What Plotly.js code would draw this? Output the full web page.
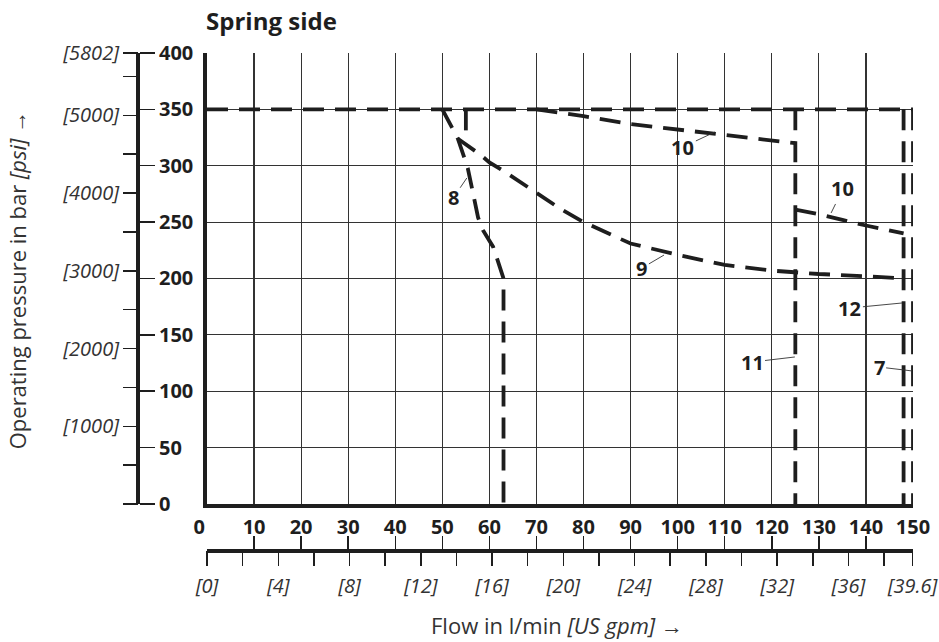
<!DOCTYPE html>
<html>
<head>
<meta charset="utf-8">
<script src="https://cdn.plot.ly/plotly-3.0.1.min.js"></script>
<style>html,body{margin:0;padding:0;background:#fff;}#chart{width:939px;height:642px;}</style>
</head>
<body>
<div id="chart"></div>
<script>
// ---- data (flow in l/min, pressure in bar) ----
const topLineX = [0, 150];
const topLineY = [350, 350];

const curve7X = [150, 150];
const curve7Y = [350, 0];

const curve12X = [148, 148];
const curve12Y = [350, 0];

const curve11X = [125, 125];
const curve11Y = [350, 0];

const curve10aX = [70, 80, 90, 100, 110, 120, 125];
const curve10aY = [350, 344, 337, 332, 327, 322, 320];

const curve10bX = [125, 130, 135, 140, 148];
const curve10bY = [261, 257, 252, 247, 240];

const curve8X = [50, 53.3, 55.4, 56.5, 57.6, 58.6, 60.8, 61.6, 63, 63];
const curve8Y = [350, 324, 298, 275, 254, 243, 228, 218, 200, 0];

const curve9X = [53.3, 58, 60, 63.5, 70, 75, 80, 90, 100, 110, 120, 130, 140, 148];
const curve9Y = [324, 310, 303, 294, 276, 262, 250, 231, 221, 212, 207, 204, 202, 200];

const stub9X = [55, 55];
const stub9Y = [350, 330];

// curve labels: text, tip (on curve), label centre
const labelText = ['10', '10', '9', '8', '12', '11', '7'];
const labelTipX = [107.9, 132.6, 97.1, 55.2, 147.7, 124.9, 149.8];
const labelTipY = [329.9, 258.1, 220.8, 289.1, 178.3, 130.4, 118];
const labelX = [101.1, 135.1, 92.4, 52.3, 136.6, 115.8, 142.8];
const labelY = [316.6, 279.4, 209.3, 271.4, 173.8, 125.9, 121.5];

// tick labels
const flowTicks = [0, 10, 20, 30, 40, 50, 60, 70, 80, 90, 100, 110, 120, 130, 140, 150];
const flowTickText = ['0\u00a0\u00a0\u00a0', '10', '20', '30', '40', '50', '60', '70', '80', '90', '100', '110', '120', '130', '140', '150'];
const gpmTicks = [0, 2, 4, 6, 8, 10, 12, 14, 16, 18, 20, 22, 24, 26, 28, 30, 32, 34, 36, 38, 39.6];
const gpmTickText = ['[0]', '', '[4]', '', '[8]', '', '[12]', '', '[16]', '', '[20]', '', '[24]', '', '[28]', '', '[32]', '', '[36]', '', '[39.6]'];
const barTicks = [0, 50, 100, 150, 200, 250, 300, 350, 400];
const psiTicks = [0, 500, 1000, 1500, 2000, 2500, 3000, 3500, 4000, 4500, 5000, 5500, 5801.5];
const psiTickText = ['', '', '[1000]', '', '[2000]', '', '[3000]', '', '[4000]', '', '[5000]', '', '[5802]'];

const BAR_TO_PSI = 14.5038;
const LPM_PER_GPM = 3.78541;

// ---- drawing ----
const FONT = 'Open Sans, Liberation Sans, Arial, sans-serif';
const INK = '#1e1e1e';
const dashed = {color: INK, width: 3.8, dash: '21px,11px'};

function curve(x, y) {
  return {x: x, y: y, type: 'scatter', mode: 'lines', line: dashed,
          hoverinfo: 'skip', showlegend: false, xaxis: 'x', yaxis: 'y'};
}

const traces = [
  curve(topLineX, topLineY),
  curve(curve7X, curve7Y),
  curve(curve12X, curve12Y),
  curve(curve11X, curve11Y),
  curve(curve10aX, curve10aY),
  curve(curve10bX, curve10bY),
  curve(curve8X, curve8Y),
  curve(curve9X, curve9Y),
  curve(stub9X, stub9Y),
  // empty anchor traces so the extra axes are drawn
  {x: [], y: [], type: 'scatter', xaxis: 'x2', yaxis: 'y', showlegend: false},
  {x: [], y: [], type: 'scatter', xaxis: 'x3', yaxis: 'y', showlegend: false},
  {x: [], y: [], type: 'scatter', xaxis: 'x', yaxis: 'y2', showlegend: false},
  {x: [], y: [], type: 'scatter', xaxis: 'x', yaxis: 'y3', showlegend: false}
];

const annotations = labelText.map((t, i) => ({
  text: t, x: labelTipX[i], y: labelTipY[i], ax: labelX[i], ay: labelY[i],
  xref: 'x', yref: 'y', axref: 'x', ayref: 'y',
  showarrow: true, arrowhead: 0, arrowwidth: 0.9, arrowcolor: '#333', standoff: 0,
  font: {family: FONT, size: 20, weight: 'bold', color: INK}
}));

annotations.push({
  text: 'Operating pressure in bar <i>[psi]</i> \u2192', xref: 'paper', yref: 'paper',
  x: 0.008, y: 0.566, textangle: -90, showarrow: false, xanchor: 'center', yanchor: 'middle',
  font: {family: FONT, size: 22, color: '#333'}
});
annotations.push({
  text: 'Flow in l/min <i>[US gpm]</i> \u2192', xref: 'paper', yref: 'paper',
  x: 0.5952, y: 0.0113, showarrow: false, xanchor: 'center', yanchor: 'middle',
  font: {family: FONT, size: 22, color: '#333'}
});

const layout = {
  width: 939, height: 642,
  margin: {l: 10, r: 10, t: 10, b: 10},
  paper_bgcolor: '#fff', plot_bgcolor: '#fff',
  showlegend: false,
  title: {text: '<b>Spring side</b>', x: 0.2194, xref: 'container', xanchor: 'left',
          y: 0.967, yref: 'container', yanchor: 'middle',
          font: {family: FONT, size: 24, color: INK}},
  xaxis: {
    domain: [0.21436, 0.98259], range: [0, 150], anchor: 'y',
    showline: true, linewidth: 4, linecolor: INK, zeroline: false,
    showgrid: true, gridcolor: '#333', gridwidth: 1.2,
    tickmode: 'array', tickvals: flowTicks, ticktext: flowTickText,
    ticks: 'outside', ticklen: 2, tickcolor: 'rgba(0,0,0,0)',
    tickfont: {family: FONT, size: 20, weight: 'bold', color: INK}
  },
  xaxis2: {
    overlaying: 'x', anchor: 'free', position: 0.1318, side: 'bottom', range: [0, 150],
    showline: true, linewidth: 3.5, linecolor: INK, zeroline: false, showgrid: false,
    tickmode: 'array', tickvals: flowTicks, ticks: 'inside', ticklen: 13, tickwidth: 1.5,
    tickcolor: INK, showticklabels: false
  },
  xaxis3: {
    overlaying: 'x', anchor: 'free', position: 0.1318, side: 'bottom',
    range: [0, 150 / LPM_PER_GPM],
    showline: false, zeroline: false, showgrid: false,
    tickmode: 'array', tickvals: gpmTicks, ticktext: gpmTickText,
    ticks: 'outside', ticklen: 15, tickwidth: 1.5, tickcolor: INK, ticklabelstandoff: 3,
    tickfont: {family: FONT, size: 20, style: 'italic', color: '#333'}
  },
  yaxis: {
    domain: [0.20579, 0.93087], range: [0, 400], anchor: 'x',
    showline: true, linewidth: 4, linecolor: INK, zeroline: false,
    showgrid: true, gridcolor: '#333', gridwidth: 1.2,
    tickmode: 'array', tickvals: barTicks, showticklabels: false, ticks: ''
  },
  yaxis2: {
    overlaying: 'y', anchor: 'free', position: 0.13928, side: 'right', range: [0, 400],
    showline: true, linewidth: 4, linecolor: INK, zeroline: false, showgrid: false,
    tickmode: 'array', tickvals: barTicks, ticks: 'outside', ticklen: 15, tickwidth: 1.5,
    tickcolor: INK,
    tickfont: {family: FONT, size: 20, weight: 'bold', color: INK}
  },
  yaxis3: {
    overlaying: 'y', anchor: 'free', position: 0.13928, side: 'left',
    range: [0, 400 * BAR_TO_PSI],
    showline: false, zeroline: false, showgrid: false,
    tickmode: 'array', tickvals: psiTicks, ticktext: psiTickText,
    ticks: 'outside', ticklen: 15, tickwidth: 1.5, tickcolor: INK,
    tickfont: {family: FONT, size: 20, style: 'italic', color: '#333'}
  },
  annotations: annotations
};

Plotly.newPlot('chart', traces, layout, {displayModeBar: false, staticPlot: true});
</script>
</body>
</html>
